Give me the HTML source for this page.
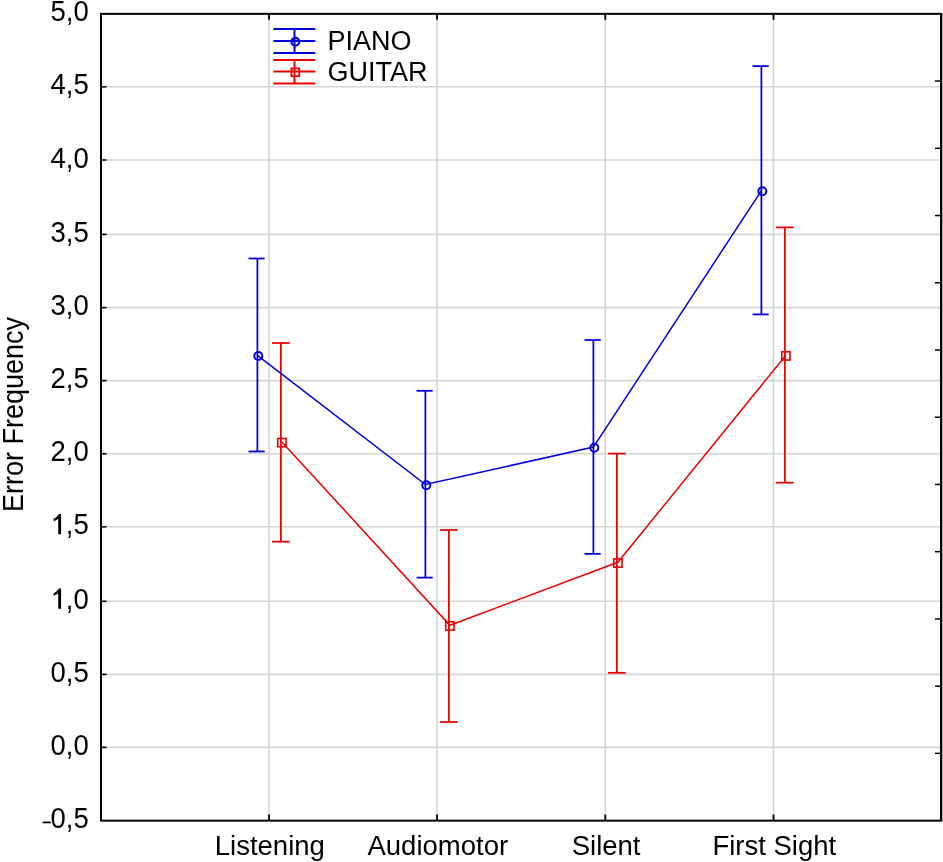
<!DOCTYPE html><html><head><meta charset="utf-8"><style>
html,body{margin:0;padding:0;background:#fff;}
svg{display:block;will-change:transform;}
text{font-family:"Liberation Sans",sans-serif;fill:#000;}
</style></head><body>
<svg width="943" height="862" viewBox="0 0 943 862">
<rect x="0" y="0" width="943" height="862" fill="#fff"/>
<rect x="942" y="13" width="1" height="809" fill="#a8a8a8"/>
<line x1="102.0" y1="86.80" x2="940.0" y2="86.80" stroke="#d4d4d4" stroke-width="1.6"/>
<line x1="102.0" y1="160.00" x2="940.0" y2="160.00" stroke="#d4d4d4" stroke-width="1.6"/>
<line x1="102.0" y1="234.40" x2="940.0" y2="234.40" stroke="#d4d4d4" stroke-width="1.6"/>
<line x1="102.0" y1="307.60" x2="940.0" y2="307.60" stroke="#d4d4d4" stroke-width="1.6"/>
<line x1="102.0" y1="380.60" x2="940.0" y2="380.60" stroke="#d4d4d4" stroke-width="1.6"/>
<line x1="102.0" y1="453.80" x2="940.0" y2="453.80" stroke="#d4d4d4" stroke-width="1.6"/>
<line x1="102.0" y1="526.80" x2="940.0" y2="526.80" stroke="#d4d4d4" stroke-width="1.6"/>
<line x1="102.0" y1="601.30" x2="940.0" y2="601.30" stroke="#d4d4d4" stroke-width="1.6"/>
<line x1="102.0" y1="674.40" x2="940.0" y2="674.40" stroke="#d4d4d4" stroke-width="1.6"/>
<line x1="102.0" y1="747.40" x2="940.0" y2="747.40" stroke="#d4d4d4" stroke-width="1.6"/>
<line x1="269.0" y1="14.8" x2="269.0" y2="819.6" stroke="#d4d4d4" stroke-width="1.6"/>
<line x1="437.0" y1="14.8" x2="437.0" y2="819.6" stroke="#d4d4d4" stroke-width="1.6"/>
<line x1="605.3" y1="14.8" x2="605.3" y2="819.6" stroke="#d4d4d4" stroke-width="1.6"/>
<line x1="773.5" y1="14.8" x2="773.5" y2="819.6" stroke="#d4d4d4" stroke-width="1.6"/>
<line x1="101.0" y1="86.80" x2="106.5" y2="86.80" stroke="#000" stroke-width="1.5"/>
<line x1="101.0" y1="160.00" x2="106.5" y2="160.00" stroke="#000" stroke-width="1.5"/>
<line x1="101.0" y1="234.40" x2="106.5" y2="234.40" stroke="#000" stroke-width="1.5"/>
<line x1="101.0" y1="307.60" x2="106.5" y2="307.60" stroke="#000" stroke-width="1.5"/>
<line x1="101.0" y1="380.60" x2="106.5" y2="380.60" stroke="#000" stroke-width="1.5"/>
<line x1="101.0" y1="453.80" x2="106.5" y2="453.80" stroke="#000" stroke-width="1.5"/>
<line x1="101.0" y1="526.80" x2="106.5" y2="526.80" stroke="#000" stroke-width="1.5"/>
<line x1="101.0" y1="601.30" x2="106.5" y2="601.30" stroke="#000" stroke-width="1.5"/>
<line x1="101.0" y1="674.40" x2="106.5" y2="674.40" stroke="#000" stroke-width="1.5"/>
<line x1="101.0" y1="747.40" x2="106.5" y2="747.40" stroke="#000" stroke-width="1.5"/>
<line x1="935.0" y1="81.08" x2="941.0" y2="81.08" stroke="#000" stroke-width="1.5"/>
<line x1="935.0" y1="148.31" x2="941.0" y2="148.31" stroke="#000" stroke-width="1.5"/>
<line x1="935.0" y1="215.54" x2="941.0" y2="215.54" stroke="#000" stroke-width="1.5"/>
<line x1="935.0" y1="282.77" x2="941.0" y2="282.77" stroke="#000" stroke-width="1.5"/>
<line x1="935.0" y1="350.00" x2="941.0" y2="350.00" stroke="#000" stroke-width="1.5"/>
<line x1="935.0" y1="417.23" x2="941.0" y2="417.23" stroke="#000" stroke-width="1.5"/>
<line x1="935.0" y1="484.45" x2="941.0" y2="484.45" stroke="#000" stroke-width="1.5"/>
<line x1="935.0" y1="551.68" x2="941.0" y2="551.68" stroke="#000" stroke-width="1.5"/>
<line x1="935.0" y1="618.91" x2="941.0" y2="618.91" stroke="#000" stroke-width="1.5"/>
<line x1="935.0" y1="686.14" x2="941.0" y2="686.14" stroke="#000" stroke-width="1.5"/>
<line x1="935.0" y1="753.37" x2="941.0" y2="753.37" stroke="#000" stroke-width="1.5"/>
<line x1="269.0" y1="13.85" x2="269.0" y2="19.85" stroke="#000" stroke-width="1.8"/>
<line x1="269.0" y1="814.6" x2="269.0" y2="820.6" stroke="#000" stroke-width="1.8"/>
<line x1="437.0" y1="13.85" x2="437.0" y2="19.85" stroke="#000" stroke-width="1.8"/>
<line x1="437.0" y1="814.6" x2="437.0" y2="820.6" stroke="#000" stroke-width="1.8"/>
<line x1="605.3" y1="13.85" x2="605.3" y2="19.85" stroke="#000" stroke-width="1.8"/>
<line x1="605.3" y1="814.6" x2="605.3" y2="820.6" stroke="#000" stroke-width="1.8"/>
<line x1="773.5" y1="13.85" x2="773.5" y2="19.85" stroke="#000" stroke-width="1.8"/>
<line x1="773.5" y1="814.6" x2="773.5" y2="820.6" stroke="#000" stroke-width="1.8"/>
<rect x="101.0" y="13.85" width="840.0" height="806.8" fill="none" stroke="#000" stroke-width="2"/>
<text transform="translate(0,10.80) scale(1,1.09) translate(0,-10.80)" x="88.75" y="20.30" font-size="27.5" text-anchor="end">5,0</text>
<text transform="translate(0,84.00) scale(1,1.09) translate(0,-84.00)" x="88.75" y="93.50" font-size="27.5" text-anchor="end">4,5</text>
<text transform="translate(0,157.20) scale(1,1.09) translate(0,-157.20)" x="88.75" y="166.70" font-size="27.5" text-anchor="end">4,0</text>
<text transform="translate(0,231.60) scale(1,1.09) translate(0,-231.60)" x="88.75" y="241.10" font-size="27.5" text-anchor="end">3,5</text>
<text transform="translate(0,304.80) scale(1,1.09) translate(0,-304.80)" x="88.75" y="314.30" font-size="27.5" text-anchor="end">3,0</text>
<text transform="translate(0,377.80) scale(1,1.09) translate(0,-377.80)" x="88.75" y="387.30" font-size="27.5" text-anchor="end">2,5</text>
<text transform="translate(0,451.00) scale(1,1.09) translate(0,-451.00)" x="88.75" y="460.50" font-size="27.5" text-anchor="end">2,0</text>
<path d="M61.1,514.00 L61.1,534.20 L58.2,534.20 L58.2,518.70 Q56.2,520.40 53.7,521.20 L53.5,519.00 Q57.4,517.00 59.0,514.00 Z" fill="#000"/>
<text transform="translate(0,524.00) scale(1,1.09) translate(0,-524.00)" x="88.75" y="533.50" font-size="27.5" text-anchor="end">,5</text>
<path d="M61.1,588.50 L61.1,608.70 L58.2,608.70 L58.2,593.20 Q56.2,594.90 53.7,595.70 L53.5,593.50 Q57.4,591.50 59.0,588.50 Z" fill="#000"/>
<text transform="translate(0,598.50) scale(1,1.09) translate(0,-598.50)" x="88.75" y="608.00" font-size="27.5" text-anchor="end">,0</text>
<text transform="translate(0,671.60) scale(1,1.09) translate(0,-671.60)" x="88.75" y="681.10" font-size="27.5" text-anchor="end">0,5</text>
<text transform="translate(0,744.60) scale(1,1.09) translate(0,-744.60)" x="88.75" y="754.10" font-size="27.5" text-anchor="end">0,0</text>
<rect x="42.6" y="821.6" width="8.2" height="1.7" fill="#000"/>
<text transform="translate(0,817.60) scale(1,1.09) translate(0,-817.60)" x="88.75" y="827.10" font-size="27.5" text-anchor="end">0,5</text>
<text x="269.8" y="855" font-size="27.5" text-anchor="middle">Listening</text>
<text x="437.8" y="855" font-size="27.5" text-anchor="middle">Audiomotor</text>
<text x="606.1" y="855" font-size="27.5" text-anchor="middle">Silent</text>
<text x="774.3" y="855" font-size="27.5" text-anchor="middle">First Sight</text>
<text transform="translate(22.8,414.4) rotate(-90) scale(1,1.06)" x="0" y="0" font-size="27" text-anchor="middle">Error Frequency</text>
<polyline points="281.9,441.9 449.9,625.3 617.9,562.3 785.9,355.2" fill="none" stroke="#e80000" stroke-width="1.5"/>
<line x1="280.9" y1="343.0" x2="280.9" y2="541.7" stroke="#e80000" stroke-width="1.75"/>
<line x1="272.1" y1="343.0" x2="289.7" y2="343.0" stroke="#e80000" stroke-width="1.75"/>
<line x1="272.1" y1="541.7" x2="289.7" y2="541.7" stroke="#e80000" stroke-width="1.75"/>
<rect x="277.75" y="438.45" width="8.3" height="8.3" fill="none" stroke="#e80000" stroke-width="1.6"/>
<line x1="448.9" y1="530.0" x2="448.9" y2="722.0" stroke="#e80000" stroke-width="1.75"/>
<line x1="440.1" y1="530.0" x2="457.7" y2="530.0" stroke="#e80000" stroke-width="1.75"/>
<line x1="440.1" y1="722.0" x2="457.7" y2="722.0" stroke="#e80000" stroke-width="1.75"/>
<rect x="445.75" y="621.85" width="8.3" height="8.3" fill="none" stroke="#e80000" stroke-width="1.6"/>
<line x1="616.9" y1="453.6" x2="616.9" y2="672.8" stroke="#e80000" stroke-width="1.75"/>
<line x1="608.1" y1="453.6" x2="625.7" y2="453.6" stroke="#e80000" stroke-width="1.75"/>
<line x1="608.1" y1="672.8" x2="625.7" y2="672.8" stroke="#e80000" stroke-width="1.75"/>
<rect x="613.75" y="558.85" width="8.3" height="8.3" fill="none" stroke="#e80000" stroke-width="1.6"/>
<line x1="784.9" y1="227.4" x2="784.9" y2="482.7" stroke="#e80000" stroke-width="1.75"/>
<line x1="776.1" y1="227.4" x2="793.7" y2="227.4" stroke="#e80000" stroke-width="1.75"/>
<line x1="776.1" y1="482.7" x2="793.7" y2="482.7" stroke="#e80000" stroke-width="1.75"/>
<rect x="781.75" y="351.75" width="8.3" height="8.3" fill="none" stroke="#e80000" stroke-width="1.6"/>
<polyline points="257.4,355.3 425.4,484.5 593.4,447.1 761.4,190.6" fill="none" stroke="#0000dd" stroke-width="1.5"/>
<line x1="257.4" y1="258.5" x2="257.4" y2="451.5" stroke="#0000dd" stroke-width="1.75"/>
<line x1="248.5" y1="258.5" x2="264.7" y2="258.5" stroke="#0000dd" stroke-width="1.75"/>
<line x1="248.5" y1="451.5" x2="264.7" y2="451.5" stroke="#0000dd" stroke-width="1.75"/>
<circle cx="258.3" cy="356.0" r="4.0" fill="none" stroke="#0000dd" stroke-width="2.0"/>
<line x1="425.4" y1="390.8" x2="425.4" y2="577.6" stroke="#0000dd" stroke-width="1.75"/>
<line x1="416.5" y1="390.8" x2="432.7" y2="390.8" stroke="#0000dd" stroke-width="1.75"/>
<line x1="416.5" y1="577.6" x2="432.7" y2="577.6" stroke="#0000dd" stroke-width="1.75"/>
<circle cx="426.3" cy="485.2" r="4.0" fill="none" stroke="#0000dd" stroke-width="2.0"/>
<line x1="593.4" y1="340.0" x2="593.4" y2="553.9" stroke="#0000dd" stroke-width="1.75"/>
<line x1="584.5" y1="340.0" x2="600.7" y2="340.0" stroke="#0000dd" stroke-width="1.75"/>
<line x1="584.5" y1="553.9" x2="600.7" y2="553.9" stroke="#0000dd" stroke-width="1.75"/>
<circle cx="594.3" cy="447.8" r="4.0" fill="none" stroke="#0000dd" stroke-width="2.0"/>
<line x1="761.4" y1="66.1" x2="761.4" y2="314.4" stroke="#0000dd" stroke-width="1.75"/>
<line x1="752.5" y1="66.1" x2="768.7" y2="66.1" stroke="#0000dd" stroke-width="1.75"/>
<line x1="752.5" y1="314.4" x2="768.7" y2="314.4" stroke="#0000dd" stroke-width="1.75"/>
<circle cx="762.3" cy="191.3" r="4.0" fill="none" stroke="#0000dd" stroke-width="2.0"/>
<line x1="273.4" y1="29.1" x2="315.4" y2="29.1" stroke="#0000dd" stroke-width="2"/>
<line x1="273.4" y1="41.1" x2="315.4" y2="41.1" stroke="#0000dd" stroke-width="2"/>
<line x1="273.4" y1="53.0" x2="315.4" y2="53.0" stroke="#0000dd" stroke-width="2"/>
<line x1="294.5" y1="29.1" x2="294.5" y2="53.0" stroke="#0000dd" stroke-width="2"/>
<circle cx="295.3" cy="41.8" r="3.9" fill="none" stroke="#0000dd" stroke-width="2.2"/>
<text x="327.6" y="49.6" font-size="27">PIANO</text>
<line x1="273.4" y1="59.9" x2="315.4" y2="59.9" stroke="#e80000" stroke-width="2"/>
<line x1="273.4" y1="71.4" x2="315.4" y2="71.4" stroke="#e80000" stroke-width="2"/>
<line x1="273.4" y1="83.4" x2="315.4" y2="83.4" stroke="#e80000" stroke-width="2"/>
<line x1="294.5" y1="59.9" x2="294.5" y2="83.4" stroke="#e80000" stroke-width="2"/>
<rect x="291.4" y="68.4" width="7.8" height="7.8" fill="none" stroke="#e80000" stroke-width="1.8"/>
<text x="327.6" y="80.7" font-size="27">GUITAR</text>
</svg></body></html>
